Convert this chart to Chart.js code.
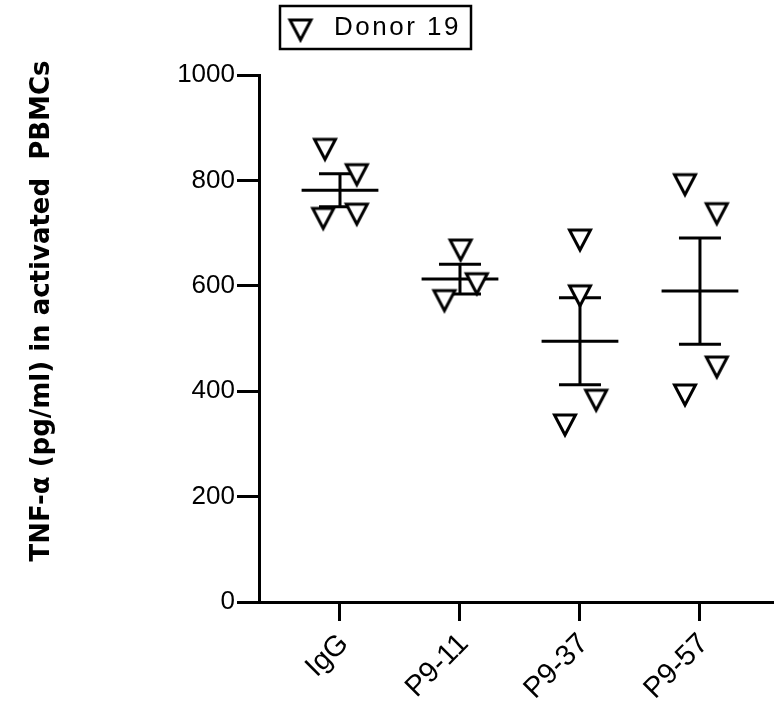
<!DOCTYPE html>
<html><head><meta charset="utf-8">
<script src="https://cdn.jsdelivr.net/npm/chart.js@4.4.1/dist/chart.umd.min.js"></script>
<style>html,body{margin:0;padding:0;background:#fff;}#wrap{width:774px;height:712px;}</style>
</head><body><div id="wrap"><canvas id="c" width="774" height="712"></canvas></div>
<script>
// ---- data ----
const categories = ['IgG', 'P9-11', 'P9-37', 'P9-57'];
const valuesIgG   = [857, 809, 726, 734];
const valuesP9_11 = [666, 602, 570];
const valuesP9_37 = [685, 579, 381, 334];
const valuesP9_57 = [790, 735, 444, 391];
// horizontal scatter of each point inside its column (category units)
const jitterIgG   = [-0.125, 0.14, -0.14, 0.14];
const jitterP9_11 = [0.005, 0.14, -0.13];
const jitterP9_37 = [0, 0, 0.135, -0.125];
const jitterP9_57 = [-0.125, 0.14, 0.14, -0.125];
const yTickValues = [0, 200, 400, 600, 800, 1000];
const seriesLabel = 'Donor 19';
const yTitleText = 'TNF-α (pg/ml) in activated  PBMCs';

const groups = [valuesIgG, valuesP9_11, valuesP9_37, valuesP9_57];
const jitters = [jitterIgG, jitterP9_11, jitterP9_37, jitterP9_57];

function makeTriangle() {
  const c = document.createElement('canvas');
  c.width = 30; c.height = 30;
  const g = c.getContext('2d');
  g.lineWidth = 3; g.lineJoin = 'miter'; g.strokeStyle = '#000'; g.fillStyle = '#fff';
  g.beginPath(); g.moveTo(4.5, 4); g.lineTo(25.5, 4); g.lineTo(15, 24); g.closePath();
  g.fill(); g.stroke();
  return c;
}
const tri = makeTriangle();

const points = [];
groups.forEach((vals, i) => vals.forEach((v, j) => points.push({x: i + jitters[i][j], y: v})));

const meanSemPlugin = {
  id: 'meanSem',
  beforeDatasetsDraw(chart) {
    const {ctx, scales: {x, y}} = chart;
    ctx.save();
    ctx.strokeStyle = '#000'; ctx.lineWidth = 3; ctx.lineCap = 'butt';
    groups.forEach((vals, i) => {
      const n = vals.length;
      const mean = vals.reduce((a, b) => a + b, 0) / n;
      const sd = Math.sqrt(vals.reduce((a, b) => a + (b - mean) ** 2, 0) / (n - 1));
      const sem = sd / Math.sqrt(n);
      const yc = y.getPixelForValue(mean), yt = y.getPixelForValue(mean + sem), yb = y.getPixelForValue(mean - sem);
      const xc = x.getPixelForValue(i);
      ctx.beginPath();
      ctx.moveTo(x.getPixelForValue(i - 0.32), yc); ctx.lineTo(x.getPixelForValue(i + 0.32), yc);
      ctx.moveTo(xc, yt); ctx.lineTo(xc, yb);
      ctx.moveTo(x.getPixelForValue(i - 0.175), yt); ctx.lineTo(x.getPixelForValue(i + 0.175), yt);
      ctx.moveTo(x.getPixelForValue(i - 0.175), yb); ctx.lineTo(x.getPixelForValue(i + 0.175), yb);
      ctx.stroke();
    });
    ctx.restore();
  }
};

const decorPlugin = {
  id: 'decor',
  afterDraw(chart) {
    const ctx = chart.ctx;
    ctx.save();
    ctx.strokeStyle = '#000'; ctx.lineWidth = 2.5;
    ctx.strokeRect(280, 6, 191, 43);
    ctx.drawImage(tri, 300.5 - tri.width / 2, 31 - tri.height / 2);
    ctx.fillStyle = '#000';
    ctx.font = '26px "Liberation Sans", Arial, sans-serif';
    if ('letterSpacing' in ctx) ctx.letterSpacing = '2.5px';
    ctx.textAlign = 'left'; ctx.textBaseline = 'middle';
    ctx.fillText(chart.data.datasets[0].label, 334, 28);
    if ('letterSpacing' in ctx) ctx.letterSpacing = '0px';
    ctx.translate(42, 311);
    ctx.rotate(-Math.PI / 2);
    ctx.font = 'bold 26px "DejaVu Sans", sans-serif';
    ctx.textAlign = 'center';
    ctx.fillText(yTitleText, 0, 0);
    ctx.restore();
  }
};

const tickFont = {family: '"Liberation Sans", Arial, sans-serif', size: 26};

new Chart(document.getElementById('c'), {
  type: 'scatter',
  data: {
    datasets: [{
      label: seriesLabel,
      data: points,
      pointStyle: tri,
      pointRadius: 13,
      showLine: false
    }]
  },
  options: {
    responsive: false,
    devicePixelRatio: 1,
    animation: false,
    layout: {autoPadding: false, padding: {top: 75, left: 0, right: 0, bottom: 0}},
    plugins: {legend: {display: false}, tooltip: {enabled: false}},
    scales: {
      x: {
        type: 'linear', min: -0.675, max: 3.617,
        afterBuildTicks: s => { s.ticks = categories.map((_, i) => ({value: i})); },
        afterFit: s => { s.height = 110; s.paddingLeft = 0; s.paddingRight = 0; },
        ticks: {callback: v => categories[v] ?? '', autoSkip: false, minRotation: 45, maxRotation: 45,
                font: {family: tickFont.family, size: 29}, color: '#000', padding: 6, labelOffset: 4},
        grid: {drawOnChartArea: false, drawTicks: true, tickLength: 19, tickWidth: 3, tickColor: '#000'},
        border: {display: true, color: '#000', width: 3}
      },
      y: {
        type: 'linear', min: 0, max: 1000,
        afterBuildTicks: s => { s.ticks = yTickValues.map(v => ({value: v})); },
        afterFit: s => { s.width = 259; },
        ticks: {callback: v => String(v), font: tickFont, color: '#000', padding: 2},
        grid: {drawOnChartArea: false, drawTicks: true, tickLength: 22, tickWidth: 3, tickColor: '#000'},
        border: {display: true, color: '#000', width: 3}
      }
    }
  },
  plugins: [meanSemPlugin, decorPlugin]
});
</script></body></html>
